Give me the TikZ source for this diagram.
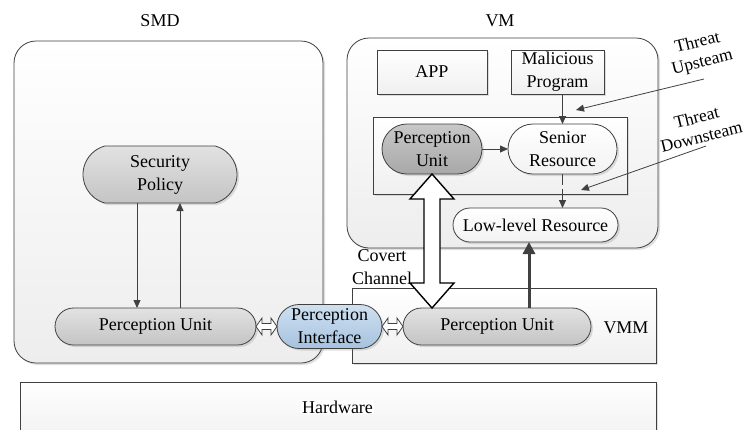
\documentclass[tikz,border=0pt]{standalone}
\usepackage{fontspec}
\setmainfont{Liberation Serif}
\usetikzlibrary{shapes.misc,shadows,calc,arrows.meta}
\definecolor{edge}{HTML}{404040}
\definecolor{pigrayA}{HTML}{E2E2E2}
\definecolor{pigrayB}{HTML}{C4C4C4}
\definecolor{pidarkA}{HTML}{C8C8C8}
\definecolor{pidarkB}{HTML}{A8A8A8}
\definecolor{blueA}{HTML}{CFE0F1}
\definecolor{blueB}{HTML}{A6C2DF}
\tikzset{
  shade/.style={drop shadow={shadow xshift=2pt,shadow yshift=-2pt,opacity=.25,fill=gray}},
  container/.style={draw=edge,line width=0.8pt,rounded corners=22pt,top color=white,bottom color=black!7,shade,inner sep=0pt,outer sep=0pt},
  plainbox/.style={draw=edge,line width=0.8pt,top color=white,bottom color=black!6,shade,inner sep=0pt,outer sep=0pt},
  pill/.style={rounded rectangle,draw=edge,line width=0.8pt,align=center,inner sep=0pt,outer sep=0pt,shade},
  graypill/.style={pill,top color=pigrayA,bottom color=pigrayB},
  darkpill/.style={pill,top color=pidarkA,bottom color=pidarkB},
  whitepill/.style={pill,top color=white,bottom color=black!5},
  bluepill/.style={pill,top color=blueA,bottom color=blueB},
  arr/.style={draw=edge,line width=0.8pt,-{Triangle[length=8pt,width=7pt]}},
  hollow/.style={draw=edge,line width=0.8pt,fill=white,line join=miter},
  label/.style={inner sep=0pt,align=center},
  threatlabel/.style={label,rotate=14,font=\fontsize{17.5}{20}\selectfont}
}
\begin{document}
\begin{tikzpicture}[x=1pt,y=-1pt,font=\fontsize{18}{23}\selectfont]
\useasboundingbox (0,0) rectangle (745,429);
% containers
\node[container,minimum width=309pt,minimum height=322pt] (smd) at (168.5,202) {};
\node[container,minimum width=311pt,minimum height=210pt] (vm) at (502.5,143) {};
\node[plainbox,minimum width=304pt,minimum height=75pt] (vmm) at (504,325.5) {};
\node[plainbox,minimum width=636pt,minimum height=63pt] (hw) at (338,413.5) {};
\node[plainbox,minimum width=254pt,minimum height=77pt] (inner) at (500,155.5) {};
% labels
\node[label] (smdl) at (160,21) {SMD};
\node[label] (vml) at (500,21) {VM};
\node[label] (vmml) at (626,328) {VMM};
\node[label,fill=white,inner sep=1pt] (hwl) at (337.5,407) {Hardware};
\node[label] (cov) at (382,267) {Covert\\Channel};
% SMD content
\node[graypill,minimum width=154pt,minimum height=57pt,rounded rectangle arc length=150] (sp) at (160,174.5) {Security\\Policy};
\node[graypill,minimum width=201pt,minimum height=37pt] (pu1) at (155.5,326.5) {Perception Unit};
\node[bluepill,minimum width=105pt,minimum height=44pt] (pi) at (329.5,326.5) {Perception\\Interface};
\node[graypill,minimum width=188pt,minimum height=37pt] (pu3) at (497,326.5) {Perception Unit};
% VM content
\node[plainbox,minimum width=110pt,minimum height=44pt] (app) at (432,72) {APP};
\node[plainbox,minimum width=93pt,minimum height=44pt,align=center] (mal) at (557.5,72) {Malicious\\Program};
\node[darkpill,minimum width=100pt,minimum height=50pt] (pu2) at (432,149) {Perception\\Unit};
\node[whitepill,minimum width=109pt,minimum height=50pt] (sr) at (562.5,149) {Senior\\Resource};
\node[whitepill,minimum width=165pt,minimum height=34pt] (llr) at (535.5,225) {Low-level Resource};
% arrows in SMD
\draw[arr] (sp.south -| 137,0) -- (pu1.north -| 137,0);
\draw[arr] (pu1.north -| 180,0) -- (sp.south -| 180,0);
% arrows in VM
\draw[arr] (pu2.east) -- (sr.west);
\draw[arr] (mal.south -| sr.north) -- (sr.north);
\draw[arr,dash pattern=on 11pt off 4pt] (sr.south) -- (sr.south |- llr.north);
\draw[draw=edge,line width=3pt,-{Triangle[length=12pt,width=12pt]}] (pu3.north -| 529,0) -- (llr.south -| 529,0);
% threat arrows
\coordinate (tu) at (704,79);
\coordinate (td) at (706,146);
\coordinate (tue) at (576,110);
\coordinate (tde) at (581,190);
\draw[arr] (tu) -- (tue);
\draw[arr] (td) -- (tde);
\node[threatlabel] (tul) at (700,53) {Threat\\Upsteam};
\node[threatlabel] (tdl) at (699,127) {Threat\\Downsteam};
% small hollow double arrows
\draw[hollow] (pu1.east) -- ++(6,-8.5) -- ++(0,5.5) -- ($(pi.west)+(-6,-3)$) -- ++(0,-5.5) -- (pi.west) -- ++(-6,8.5) -- ++(0,-5.5) -- ($(pu1.east)+(6,3)$) -- ++(0,5.5) -- cycle;
\draw[hollow] (pi.east) -- ++(6,-8.5) -- ++(0,5.5) -- ($(pu3.west)+(-6,-3)$) -- ++(0,-5.5) -- (pu3.west) -- ++(-6,8.5) -- ++(0,-5.5) -- ($(pi.east)+(6,3)$) -- ++(0,5.5) -- cycle;
% covert channel big double arrow
\coordinate (ca) at (pu2.south);
\coordinate (cb) at (pu2.south |- pu3.north);
\draw[draw=black,line width=1.4pt,fill=white,line join=miter]
  (ca) -- ($(ca)+(22,25)$) -- ($(ca)+(8,25)$) -- ($(cb)+(8,-25)$) -- ($(cb)+(22,-25)$)
  -- (cb) -- ($(cb)+(-22,-25)$) -- ($(cb)+(-8,-25)$) -- ($(ca)+(-8,25)$) -- ($(ca)+(-22,25)$) -- cycle;
\end{tikzpicture}
\end{document}
